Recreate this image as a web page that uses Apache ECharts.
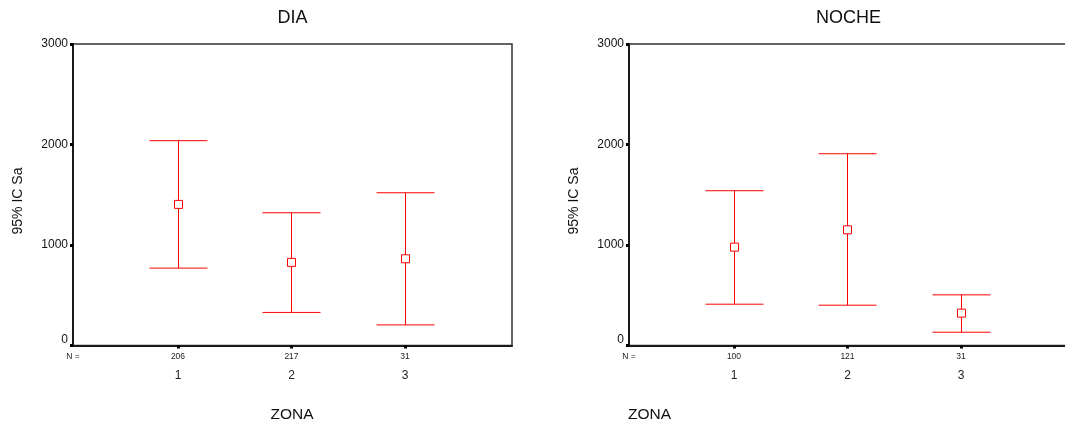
<!DOCTYPE html>
<html><head><meta charset="utf-8">
<script src="https://cdn.jsdelivr.net/npm/echarts@6/dist/echarts.min.js"></script>
<style>html,body{margin:0;padding:0;background:#fff}#c{width:1065px;height:428px}</style>
</head><body><div id="c"></div>
<script>
// ---- data ----
const zonas = [1, 2, 3];
const zonaLabels = ['1', '2', '3'];
const diaN = ['206', '217', '31'];
const diaLow = [770, 329, 205];
const diaMean = [1404, 827, 863];
const diaHigh = [2038, 1321, 1520];
const nocheN = ['100', '121', '31'];
const nocheLow = [411, 401, 132];
const nocheMean = [979, 1151, 322];
const nocheHigh = [1540, 1908, 504];
const yTicks = [0, 1000, 2000, 3000];
const panelTitles = ['DIA', 'NOCHE'];
const xTitle = 'ZONA';
const yTitle = '95% IC Sa';

const FONT = '"Liberation Sans", Arial, sans-serif';
const XMIN = 0.075, XMAX = 3.943;
const XMAX_R = 4.128; // right panel box runs past the page edge
const chart = echarts.init(document.getElementById('c'));

function rows(low, mean, high) {
  return zonas.map((z, i) => [z, low[i], mean[i], high[i]]);
}
function renderItem(params, api) {
  const x = api.value(0);
  const pLow = api.coord([x, api.value(1)]);
  const pMean = api.coord([x, api.value(2)]);
  const pHigh = api.coord([x, api.value(3)]);
  const cx = Math.round(pLow[0]) + 0.5;
  const hw = 29, s = 8;
  const st = { stroke: '#ff0000', lineWidth: 1, fill: null };
  return {
    type: 'group',
    children: [
      { type: 'line', shape: { x1: cx, y1: pHigh[1], x2: cx, y2: pLow[1] }, style: st },
      { type: 'line', shape: { x1: cx - hw, y1: pHigh[1], x2: cx + hw, y2: pHigh[1] }, style: st },
      { type: 'line', shape: { x1: cx - hw, y1: pLow[1], x2: cx + hw, y2: pLow[1] }, style: st },
      { type: 'rect', shape: { x: cx - s / 2, y: pMean[1] - s / 2, width: s, height: s },
        style: { stroke: '#ff0000', lineWidth: 1, fill: '#fff' } }
    ]
  };
}
function xAxis(idx, nArr, xmax) {
  return {
    type: 'value', gridIndex: idx, min: XMIN, max: xmax,
    splitLine: { show: false },
    axisLine: { show: true, lineStyle: { color: '#1a1a1a', width: 2 } },
    axisTick: { show: true, customValues: zonas, length: 3, inside: false,
      lineStyle: { color: '#000', width: 3 } },
    axisLabel: {
      show: true, customValues: [XMIN].concat(zonas), margin: 5,
      formatter: function (v) {
        const i = zonas.indexOf(Math.round(v));
        if (Math.abs(v - XMIN) < 0.01) return '{n|N =}\n{c| }';
        return '{n|' + nArr[i] + '}\n{c|' + zonaLabels[i] + '}';
      },
      rich: {
        n: { fontSize: 8.5, lineHeight: 12, color: '#222', fontFamily: FONT },
        c: { fontSize: 12, lineHeight: 26, color: '#222', fontFamily: FONT }
      }
    }
  };
}
function yAxis(idx) {
  return {
    type: 'value', gridIndex: idx, min: 0, max: 3000, interval: 1000,
    splitLine: { show: false },
    axisLine: { show: true, lineStyle: { color: '#1a1a1a', width: 2 } },
    axisTick: { show: true, length: 3, lineStyle: { color: '#000', width: 3 } },
    axisLabel: { margin: 5, fontSize: 12, color: '#111', fontFamily: FONT,
      customValues: yTicks,
      formatter: v => (v === 0 ? '{z|0}' : String(v)),
      rich: { z: { fontSize: 12, color: '#111', fontFamily: FONT, padding: [0, 0, 12, 0] } } }
  };
}
function txt(s, x, y, size, align, rot) {
  return { type: 'text', x: x, y: y, rotation: rot || 0,
    style: { text: s, fontSize: size, fontFamily: FONT, fill: '#111',
      align: align || 'center', verticalAlign: 'middle' } };
}

chart.setOption({
  animation: false,
  graphic: [
    txt(panelTitles[0], 292.5, 18, 18),
    txt(panelTitles[1], 848.5, 18, 18),
    txt(xTitle, 292, 415, 15.5),
    txt(xTitle, 628, 415, 15.5, 'left'),
    txt(yTitle, 18, 201, 14, 'center', Math.PI / 2),
    txt(yTitle, 574, 201, 14, 'center', Math.PI / 2)
  ],
  grid: [
    { left: 73, top: 44, width: 439, height: 301.5, outerBoundsMode: 'none', containLabel: false,
      show: true, borderColor: '#333', borderWidth: 1.5, backgroundColor: 'transparent' },
    { left: 629, top: 44, width: 460, height: 301.5, outerBoundsMode: 'none', containLabel: false,
      show: true, borderColor: '#333', borderWidth: 1.5, backgroundColor: 'transparent' }
  ],
  xAxis: [xAxis(0, diaN, XMAX), xAxis(1, nocheN, XMAX_R)],
  yAxis: [yAxis(0), yAxis(1)],
  series: [
    { type: 'custom', xAxisIndex: 0, yAxisIndex: 0, renderItem: renderItem,
      encode: { x: 0, y: [1, 2, 3] }, data: rows(diaLow, diaMean, diaHigh) },
    { type: 'custom', xAxisIndex: 1, yAxisIndex: 1, renderItem: renderItem,
      encode: { x: 0, y: [1, 2, 3] }, data: rows(nocheLow, nocheMean, nocheHigh) }
  ]
});
</script></body></html>
